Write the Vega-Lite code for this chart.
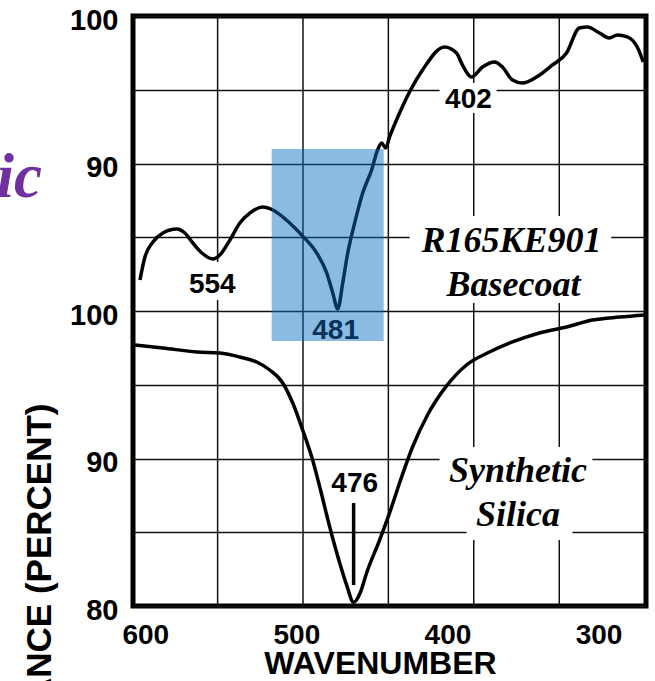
{
  "$schema": "https://vega.github.io/schema/vega-lite/v6.json",
  "width": 513,
  "height": 590,
  "autosize": {"type": "none"},
  "padding": {"left": 133, "top": 16, "right": 9, "bottom": 75},
  "background": "white",
  "config": {
    "view": {"stroke": "black", "strokeWidth": 5}
  },
  "datasets": {
    "gridx": [{"w": 552.1}, {"w": 495.6}, {"w": 439.1}, {"w": 382.6}, {"w": 326.0}],
    "silica": [
      {"w": 606.8, "pct": 97.69}, {"w": 588.3, "pct": 97.49}, {"w": 565.8, "pct": 97.22},
      {"w": 550.6, "pct": 97.15}, {"w": 537.4, "pct": 96.88}, {"w": 526.2, "pct": 96.54},
      {"w": 517.6, "pct": 96.0}, {"w": 509.0, "pct": 95.12}, {"w": 502.4, "pct": 93.76},
      {"w": 495.8, "pct": 91.93}, {"w": 489.8, "pct": 90.10}, {"w": 484.5, "pct": 88.07},
      {"w": 477.9, "pct": 85.36}, {"w": 471.3, "pct": 82.92}, {"w": 466.7, "pct": 81.42},
      {"w": 462.1, "pct": 80.25}, {"w": 457.5, "pct": 80.95}, {"w": 453.5, "pct": 82.24},
      {"w": 444.9, "pct": 84.47}, {"w": 438.3, "pct": 86.31}, {"w": 431.7, "pct": 88.34},
      {"w": 423.1, "pct": 90.78}, {"w": 413.2, "pct": 92.95}, {"w": 400.6, "pct": 94.92},
      {"w": 387.4, "pct": 96.34}, {"w": 372.2, "pct": 97.22}, {"w": 357.0, "pct": 97.90},
      {"w": 339.2, "pct": 98.51}, {"w": 321.2, "pct": 98.92}, {"w": 304.0, "pct": 99.39},
      {"w": 286.2, "pct": 99.59}, {"w": 269.0, "pct": 99.73}
    ],
    "basecoat": [
      {"w": 603.5, "pct": 82.1}, {"w": 600.2, "pct": 83.66}, {"w": 594.9, "pct": 84.68},
      {"w": 588.3, "pct": 85.29}, {"w": 579.1, "pct": 85.56}, {"w": 573.8, "pct": 85.29},
      {"w": 568.5, "pct": 84.61}, {"w": 562.5, "pct": 83.93}, {"w": 555.3, "pct": 83.53},
      {"w": 550.6, "pct": 83.80}, {"w": 544.0, "pct": 84.81}, {"w": 537.4, "pct": 85.97},
      {"w": 530.8, "pct": 86.64}, {"w": 522.2, "pct": 87.05}, {"w": 515.6, "pct": 86.85},
      {"w": 504.4, "pct": 85.97}, {"w": 495.8, "pct": 85.08}, {"w": 486.5, "pct": 83.93},
      {"w": 479.9, "pct": 82.58}, {"w": 475.9, "pct": 81.22}, {"w": 472.6, "pct": 80.14},
      {"w": 469.3, "pct": 81.90}, {"w": 466.0, "pct": 83.93}, {"w": 461.4, "pct": 85.97},
      {"w": 456.1, "pct": 88.0}, {"w": 450.2, "pct": 89.56}, {"w": 446.2, "pct": 90.92},
      {"w": 443.6, "pct": 91.39}, {"w": 440.9, "pct": 91.05}, {"w": 438.3, "pct": 91.80},
      {"w": 431.7, "pct": 93.42}, {"w": 425.1, "pct": 94.85}, {"w": 416.5, "pct": 96.34},
      {"w": 401.9, "pct": 97.90}, {"w": 394.0, "pct": 97.49}, {"w": 390.1, "pct": 96.68},
      {"w": 384.1, "pct": 95.86}, {"w": 376.8, "pct": 96.54}, {"w": 368.9, "pct": 96.88},
      {"w": 363.6, "pct": 96.54}, {"w": 357.0, "pct": 95.66}, {"w": 350.4, "pct": 95.46},
      {"w": 341.1, "pct": 95.86}, {"w": 330.5, "pct": 96.68}, {"w": 321.2, "pct": 97.49},
      {"w": 312.7, "pct": 99.19}, {"w": 307.4, "pct": 99.25}, {"w": 299.4, "pct": 98.85},
      {"w": 292.9, "pct": 98.51}, {"w": 287.6, "pct": 98.71}, {"w": 281.0, "pct": 98.58},
      {"w": 274.4, "pct": 97.90}, {"w": 270.4, "pct": 96.88}
    ],
    "silicaBoxes": [
      {"w": 405.2, "w2": 304.1, "pct": 90.78, "pct2": 87.53},
      {"w": 387.4, "w2": 317.3, "pct": 87.53, "pct2": 84.47}
    ],
    "basecoatBoxes": [
      {"w": 405.2, "w2": 367.5, "pct": 95.46, "pct2": 93.42},
      {"w": 425.0, "w2": 291.6, "pct": 86.44, "pct2": 80.54},
      {"w": 573.8, "w2": 537.4, "pct": 83.32, "pct2": 80.75}
    ],
    "silicaPeak": [{"w": 476, "x": 462.1, "pct": 86.98, "pct2": 81.42}],
    "silicaNums": [{"w": 461.4, "pct": 88.30, "label": "476"}],
    "silicaNames": [
      {"w": 353.3, "pct": 89.12, "label": "Synthetic"},
      {"w": 353.3, "pct": 86.17, "label": "Silica"}
    ],
    "basecoatNums": [
      {"w": 555.6, "pct": 81.79, "label": "554"},
      {"w": 386.1, "pct": 94.31, "label": "402"},
      {"w": 474.0, "pct": 78.67, "label": "481"}
    ],
    "basecoatNames": [
      {"w": 357.6, "pct": 84.75, "label": "R165KE901"},
      {"w": 356.3, "pct": 81.73, "label": "Basecoat"}
    ],
    "tag": [{"w": 668.3, "pct": 87.73, "label": "ic"}],
    "highlight": [{"w": 516.3, "w2": 442.2, "pct": 90.98, "pct2": 77.97}]
  },
  "encoding": {
    "x": {
      "field": "w",
      "type": "quantitative",
      "scale": {"domain": [608.1, 268.6], "nice": false, "zero": false},
      "axis": {
        "values": [600, 500, 400, 300],
        "grid": false,
        "ticks": false,
        "tickSize": 0,
        "domain": false,
        "labelFont": "Liberation Sans",
        "labelFontWeight": "bold",
        "labelFontSize": 28,
        "labelColor": "black",
        "labelBaseline": "alphabetic",
        "labelAlign": "center",
        "labelPadding": 37,
        "labelFlush": false,
        "labelOverlap": false,
        "title": "WAVENUMBER",
        "titleFont": "Liberation Sans",
        "titleFontSize": 32,
        "titleFontWeight": "bold",
        "titleColor": "black",
        "titleX": 247,
        "titleY": 67,
        "titleAlign": "center",
        "titleBaseline": "alphabetic"
      }
    }
  },
  "layer": [
    {
      "data": {"name": "gridx"},
      "mark": {"type": "rule", "stroke": "#111111", "strokeWidth": 1.5}
    },
    {
      "encoding": {
        "y": {
          "field": "pct",
          "type": "quantitative",
          "scale": {"domain": [80, 120], "nice": false, "zero": false},
          "axis": {
            "values": [80, 85, 90, 95, 100, 105, 110, 115, 120],
            "grid": true,
            "gridColor": "#111111",
            "gridWidth": 1.5,
            "ticks": false,
            "tickSize": 0,
            "domain": false,
            "labelExpr": "datum.value % 10 == 0 ? (datum.value > 100 ? '' + (datum.value - 20) : datum.label) : ''",
            "labelFont": "Liberation Sans",
            "labelFontWeight": "bold",
            "labelFontSize": 29,
            "labelColor": "black",
            "labelAlign": "right",
            "labelBaseline": "middle",
            "labelPadding": 15,
            "labelOffset": 4,
            "labelFlush": false,
            "labelOverlap": false,
            "title": "TRANSMITTANCE (PERCENT)",
            "titleFont": "Liberation Sans",
            "titleFontSize": 35,
            "titleFontWeight": "bold",
            "titleColor": "black",
            "titleAngle": -90,
            "titleX": -83,
            "titleY": 387,
            "titleAlign": "right",
            "titleBaseline": "alphabetic"
          }
        }
      },
      "layer": [
        {
          "data": {"name": "silicaBoxes"},
          "mark": {"type": "rect", "fill": "white"},
          "encoding": {"x2": {"field": "w2"}, "y2": {"field": "pct2"}}
        },
        {
          "data": {"name": "silica"},
          "mark": {"type": "line", "stroke": "black", "strokeWidth": 3.5, "interpolate": "monotone"}
        },
        {
          "data": {"name": "silicaPeak"},
          "mark": {"type": "rule", "stroke": "black", "strokeWidth": 3.5},
          "encoding": {"x": {"field": "x", "type": "quantitative"}, "y2": {"field": "pct2"}}
        },
        {
          "data": {"name": "silicaNums"},
          "mark": {"type": "text", "font": "Liberation Sans", "fontWeight": "bold", "fontSize": 28, "color": "black", "align": "center", "baseline": "middle"},
          "encoding": {"text": {"field": "label"}}
        },
        {
          "data": {"name": "silicaNames"},
          "mark": {"type": "text", "font": "Liberation Serif", "fontWeight": "bold", "fontStyle": "italic", "fontSize": 36, "color": "black", "align": "center", "baseline": "middle"},
          "encoding": {"text": {"field": "label"}}
        }
      ]
    },
    {
      "encoding": {
        "y": {
          "field": "pct",
          "type": "quantitative",
          "scale": {"domain": [60, 100], "nice": false, "zero": false},
          "axis": null
        }
      },
      "layer": [
        {
          "data": {"name": "basecoatBoxes"},
          "mark": {"type": "rect", "fill": "white"},
          "encoding": {"x2": {"field": "w2"}, "y2": {"field": "pct2"}}
        },
        {
          "data": {"name": "basecoat"},
          "mark": {"type": "line", "stroke": "black", "strokeWidth": 3.5, "interpolate": "monotone"}
        },
        {
          "data": {"name": "basecoatNums"},
          "mark": {"type": "text", "font": "Liberation Sans", "fontWeight": "bold", "fontSize": 28, "color": "black", "align": "center", "baseline": "middle"},
          "encoding": {"text": {"field": "label"}}
        },
        {
          "data": {"name": "basecoatNames"},
          "mark": {"type": "text", "font": "Liberation Serif", "fontWeight": "bold", "fontStyle": "italic", "fontSize": 36, "color": "black", "align": "center", "baseline": "middle"},
          "encoding": {"text": {"field": "label"}}
        },
        {
          "data": {"name": "tag"},
          "mark": {"type": "text", "font": "Liberation Serif", "fontWeight": "bold", "fontStyle": "italic", "fontSize": 63, "color": "#7030a0", "align": "right", "baseline": "alphabetic"},
          "encoding": {"text": {"field": "label"}}
        },
        {
          "data": {"name": "highlight"},
          "mark": {"type": "rect", "fill": "#096dc2", "opacity": 0.47},
          "encoding": {"x2": {"field": "w2"}, "y2": {"field": "pct2"}}
        }
      ]
    }
  ],
  "resolve": {"scale": {"y": "independent"}}
}
